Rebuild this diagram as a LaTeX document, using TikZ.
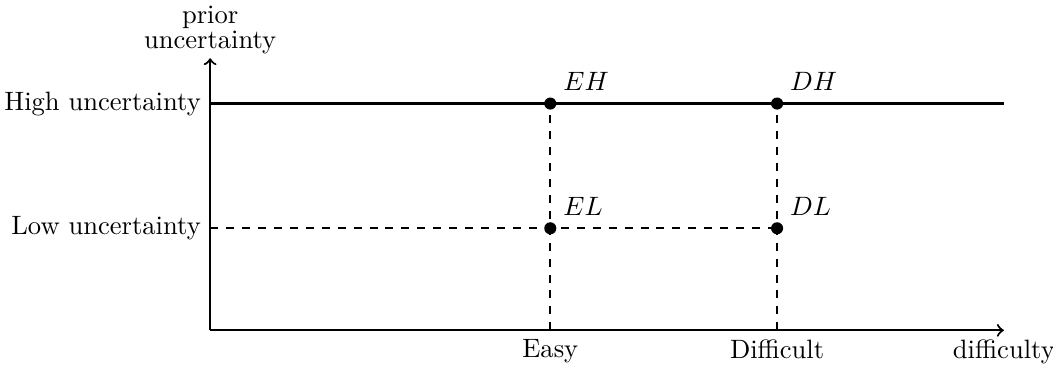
\documentclass[tikz,border=0pt]{standalone}
\usepackage{tikz}
\usetikzlibrary{positioning}
\tikzset{
  axis/.style={->, thick},
  level/.style={thick},
  guide/.style={thick, dashed},
  pt/.style={circle, fill=black, inner sep=0pt, minimum size=1.6mm},
  ptlabel/.style={inner sep=3pt}
}
\begin{document}
\begin{tikzpicture}[x=1cm,y=1cm]
  \useasboundingbox (-2.78,-0.48) rectangle (11.15,4.37);
  % axes
  \coordinate (o) at (0,0);
  \coordinate (xend) at (10.5,0);
  \coordinate (yend) at (0,3.6);
  \coordinate (hi) at (0,3);
  \coordinate (lo) at (0,1.35);
  \coordinate (hiend) at (10.5,3);
  \coordinate (easy) at (4.5,0);
  \coordinate (diff) at (7.5,0);
  \draw[axis] (o) -- (xend);
  \draw[axis] (o) -- (yend);
  \node[above,align=center,inner sep=1.5pt] (ylab) at (yend) {prior\\[-2.6pt]uncertainty};
  \node[below] (xlab) at (xend) {difficulty};
  \node[below] (easylab) at (easy) {Easy};
  \node[below] (difflab) at (diff) {Difficult};
  \node[left] (hilab) at (hi) {High uncertainty};
  \node[left] (lolab) at (lo) {Low uncertainty};
  % points
  \node[pt] (eh) at (4.5,3) {};
  \node[pt] (dh) at (7.5,3) {};
  \node[pt] (el) at (4.5,1.35) {};
  \node[pt] (dl) at (7.5,1.35) {};
  \draw[level] (hi) -- (hiend);
  \draw[guide] (lo) -- (dl);
  \draw[guide] (easy) -- (eh);
  \draw[guide] (diff) -- (dh);
  \node[ptlabel,above right=0pt of eh] (ehlab) {$EH$};
  \node[ptlabel,above right=0pt of dh] (dhlab) {$DH$};
  \node[ptlabel,above right=0pt of el] (ellab) {$EL$};
  \node[ptlabel,above right=0pt of dl] (dllab) {$DL$};
\end{tikzpicture}
\end{document}
